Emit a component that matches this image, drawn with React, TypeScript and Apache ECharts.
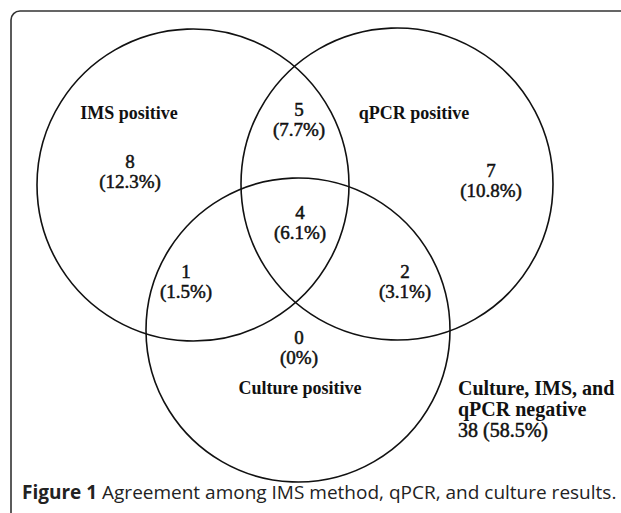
import React, { useEffect, useRef } from "react";
import * as echarts from "echarts";

const setNames = ["IMS positive", "qPCR positive", "Culture positive"];
const regionCounts = [8, 7, 0, 5, 1, 2, 4];
const regionPercents = ["12.3%", "10.8%", "0%", "7.7%", "1.5%", "3.1%", "6.1%"];
const negativeLabel = ["Culture, IMS, and", "qPCR negative"];
const negativeCount = 38;
const negativePercent = "58.5%";
const captionBold = "Figure 1";
const captionText = " Agreement among IMS method, qPCR, and culture results.";

// layout (not data)
const circles = [
  { cx: 193, cy: 185, r: 156 },
  { cx: 397, cy: 184, r: 156 },
  { cx: 298, cy: 330, r: 152 },
];
const regionPos = [
  [130, 171],
  [491, 180],
  [299, 347],
  [299, 119],
  [186, 281],
  [405, 281],
  [300, 222],
];
const setNamePos = [
  [129, 113],
  [414, 113],
  [300, 388],
];

const SERIF = "'Liberation Serif', 'Times New Roman', serif";

export default function App() {
  const ref = useRef<HTMLDivElement>(null);
  useEffect(() => {
    if (!ref.current) return;
    const chart = echarts.init(ref.current, null, { renderer: "svg" });
    const elements: any[] = [];
    elements.push({
      type: "rect",
      shape: { x: 11, y: 11, width: 700, height: 600, r: 9 },
      style: { fill: "#fff", stroke: "#333", lineWidth: 1.6 },
    });
    circles.forEach((c) => {
      elements.push({
        type: "circle",
        shape: { cx: c.cx, cy: c.cy, r: c.r },
        style: { fill: "none", stroke: "#111", lineWidth: 1.6 },
        z: 10,
      });
    });
    regionCounts.forEach((v, i) => {
      const [x, y] = regionPos[i];
      elements.push({
        type: "text",
        x,
        y,
        z: 20,
        style: {
          text: String(v) + "\n(" + regionPercents[i] + ")",
          font: "19px " + SERIF,
          fill: "#111",
          align: "center",
          verticalAlign: "middle",
          lineHeight: 20,
          stroke: "#111",
          lineWidth: 0.5,
        },
      });
    });
    setNames.forEach((n, i) => {
      const [x, y] = setNamePos[i];
      elements.push({
        type: "text",
        x,
        y,
        z: 20,
        style: {
          text: n,
          font: "bold 18px " + SERIF,
          fill: "#111",
          align: "center",
          verticalAlign: "middle",
        },
      });
    });
    negativeLabel.forEach((t, i) => {
      elements.push({
        type: "text",
        x: 458,
        y: 388 + i * 21,
        z: 20,
        style: {
          text: t,
          font: "bold 20px " + SERIF,
          fill: "#111",
          align: "left",
          verticalAlign: "middle",
        },
      });
    });
    elements.push({
      type: "text",
      x: 458,
      y: 430,
      z: 20,
      style: {
        text: negativeCount + " (" + negativePercent + ")",
        font: "20px " + SERIF,
        fill: "#111",
        align: "left",
        verticalAlign: "middle",
        stroke: "#111",
        lineWidth: 0.5,
      },
    });
    elements.push({
      type: "text",
      x: 22,
      y: 492,
      z: 20,
      style: {
        text: "{b|" + captionBold + "}{n|" + captionText + "}",
        align: "left",
        verticalAlign: "middle",
        rich: {
          b: { font: "bold 19px 'Open Sans', sans-serif", fill: "#222" },
          n: { font: "19px 'Open Sans', sans-serif", fill: "#222" },
        },
      },
    });
    chart.setOption({
      animation: false,
      backgroundColor: "#fff",
      graphic: { elements },
    });
    return () => chart.dispose();
  }, []);
  return (
    <div
      ref={ref}
      style={{ position: "fixed", left: 0, top: 0, width: 621, height: 513 }}
    />
  );
}
